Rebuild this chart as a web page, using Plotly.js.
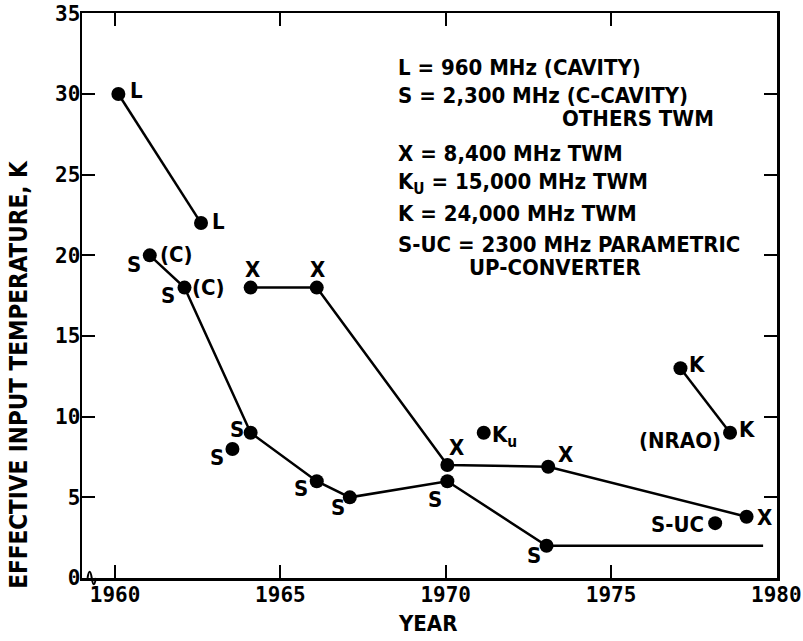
<!DOCTYPE html>
<html><head><meta charset="utf-8">
<script src="https://cdn.plot.ly/plotly-3.0.1.min.js"></script>
<style>html,body{margin:0;padding:0;background:#fff}#chart{width:803px;height:641px}</style>
</head><body><div id="chart"></div>
<script>
// ---- data ----
const yearTicks = [1960, 1965, 1970, 1975, 1980];
const tempTicks = [0, 5, 10, 15, 20, 25, 30, 35];

const L_year = [1960.1, 1962.6];
const L_temp = [30, 22];
const S_year = [1961.05, 1962.1, 1964.1, 1966.1, 1967.1, 1970.05, 1973.05, 1979.6];
const S_temp = [20, 18, 9, 6, 5, 6, 2, 2];
const S_single_year = [1963.55];
const S_single_temp = [8];
const X_year = [1964.1, 1966.1, 1970.05, 1973.1, 1979.1];
const X_temp = [18, 18, 7, 6.9, 3.8];
const Ku_year = [1971.15];
const Ku_temp = [9];
const K_year = [1977.1, 1978.6];
const K_temp = [13, 9];
const SUC_year = [1978.15];
const SUC_temp = [3.4];

const keyLines = [
  "L = 960 MHz (CAVITY)",
  "S = 2,300 MHz (C\u2013CAVITY)",
  "OTHERS TWM",
  "X = 8,400 MHz TWM",
  "K<sub>U</sub> = 15,000 MHz TWM",
  "K = 24,000 MHz TWM",
  "S-UC = 2300 MHz PARAMETRIC",
  "UP-CONVERTER"
];

// ---- styling ----
const FAM = "DejaVu Sans Condensed, Liberation Sans Narrow, sans-serif";
const TXT = {family: FAM, size: 22, color: "#000", weight: "bold"};
const TICKF = {family: "DejaVu Sans Mono, monospace", size: 21, color: "#000", weight: "bold"};
const line = {color: "#000", width: 2.5};

function tr(x, y, mode, sizes) {
  return {x: x, y: y, type: "scatter", mode: mode, line: line,
          marker: {color: "#000", size: sizes || 14, opacity: 1, line: {width: 0}},
          hoverinfo: "skip", showlegend: false};
}
const traces = [
  tr(L_year, L_temp, "lines+markers"),
  tr(S_year, S_temp, "lines+markers", S_year.map((v, i) => i === S_year.length - 1 ? 0 : 14)),
  tr(S_single_year, S_single_temp, "markers"),
  tr(X_year, X_temp, "lines+markers"),
  tr(Ku_year, Ku_temp, "markers"),
  tr(K_year, K_temp, "lines+markers"),
  tr(SUC_year, SUC_temp, "markers")
];

// label: [xs, ys, index, text, dx, dy, xanchor]
const labelSpec = [
  [L_year, L_temp, 0, "L", 18, 3, "center"],
  [L_year, L_temp, 1, "L", 17, 2, "center"],
  [S_year, S_temp, 0, "S", -16, -9, "center"],
  [S_year, S_temp, 0, "(C)", 27, 1, "center"],
  [S_year, S_temp, 1, "S", -17, -8, "center"],
  [S_year, S_temp, 1, "(C)", 24, 0, "center"],
  [S_year, S_temp, 2, "S", -14, 3, "center"],
  [S_year, S_temp, 3, "S", -16, -7, "center"],
  [S_year, S_temp, 4, "S", -12, -10, "center"],
  [S_year, S_temp, 5, "S", -12, -18, "center"],
  [S_year, S_temp, 6, "S", -13, -10, "center"],
  [S_single_year, S_single_temp, 0, "S", -15, -9, "center"],
  [X_year, X_temp, 0, "X", 2, 18, "center"],
  [X_year, X_temp, 1, "X", 1, 18, "center"],
  [X_year, X_temp, 2, "X", 9, 18, "center"],
  [X_year, X_temp, 3, "X", 17, 12, "center"],
  [X_year, X_temp, 4, "X", 18, -1, "center"],
  [Ku_year, Ku_temp, 0, "K<sub>u</sub>", 6, -4, "left"],
  [K_year, K_temp, 0, "K", 17, 4, "center"],
  [K_year, K_temp, 1, "K", 17, 3, "center"],
  [K_year, K_temp, 1, "(NRAO)", -7, -8, "right"],
  [SUC_year, SUC_temp, 0, "S-UC", -9, -1, "right"]
];

const annotations = labelSpec.map(s => ({
  x: s[0][s[2]], y: s[1][s[2]], xref: "x", yref: "y", text: s[3],
  xshift: s[4], yshift: s[5], xanchor: s[6], yanchor: "middle",
  showarrow: false, font: TXT
}));

const keyPos = [[0.452, 0.904], [0.452, 0.854], [0.688, 0.813], [0.452, 0.752],
                [0.452, 0.699], [0.452, 0.646], [0.452, 0.591], [0.554, 0.549]];
keyLines.forEach((t, i) => annotations.push({
  x: keyPos[i][0], y: keyPos[i][1], xref: "paper", yref: "paper", text: t,
  xanchor: "left", yanchor: "middle", showarrow: false, font: TXT
}));

annotations.push({x: -0.091, y: 0.361, xref: "paper", yref: "paper",
  text: "EFFECTIVE INPUT TEMPERATURE, K", textangle: -90, showarrow: false,
  xanchor: "center", yanchor: "middle", font: Object.assign({}, TXT, {size: 24})});
annotations.push({x: 0.497, y: -0.081, xref: "paper", yref: "paper",
  text: "YEAR", showarrow: false, xanchor: "center", yanchor: "middle", font: TXT});

const axisCommon = {
  ticks: "inside", ticklen: 13, tickwidth: 2, tickcolor: "#000",
  showline: true, linewidth: 2.5, linecolor: "#000", mirror: "allticks",
  showgrid: false, zeroline: false, tickfont: TICKF, fixedrange: true,
  ticklabeloverflow: "allow"
};

const layout = {
  width: 803, height: 641,
  margin: {l: 82, r: 26, t: 13, b: 63},
  paper_bgcolor: "#fff", plot_bgcolor: "#fff",
  xaxis: Object.assign({}, axisCommon, {range: [1959.0, 1980.02], tickmode: "array",
          tickvals: yearTicks, ticktext: yearTicks.map(String), ticklabelstandoff: -4}),
  yaxis: Object.assign({}, axisCommon, {range: [0, 35.02], tickmode: "array",
          tickvals: tempTicks, ticktext: tempTicks.map(String), ticklabelstandoff: -5}),
  annotations: annotations,
  shapes: [{type: "path", xref: "paper", yref: "paper",
            path: "M 0.008 0 Q 0.011 0.022 0.014 0 Q 0.017 -0.022 0.020 0",
            line: {color: "#000", width: 2}}]
};

Plotly.newPlot("chart", traces, layout, {staticPlot: true, displayModeBar: false});
</script>
</body></html>
